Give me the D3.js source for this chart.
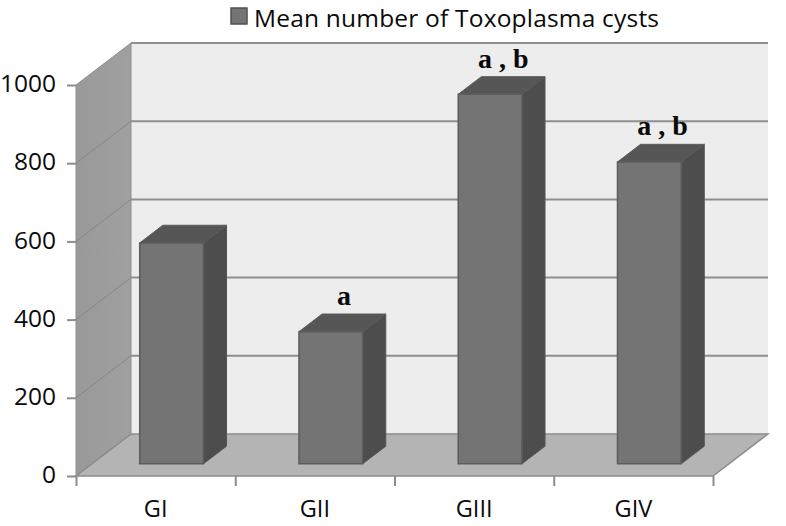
<!DOCTYPE html>
<html>
<head>
<meta charset="utf-8">
<script src="https://cdn.jsdelivr.net/npm/d3@7"></script>
<style>
	html, body { margin: 0; background: #fff; }
	svg { display: block; }
	text { font-family: "Open Sans", sans-serif; fill: #0a0a0a; }
</style>
</head>
<body>
<div id="chart"></div>
<script>
// Values
const categories = ['GI', 'GII', 'GIII', 'GIV']
const cystMeans = [565, 338, 945, 772]
const significance = ['', 'a', 'a , b', 'a , b']
const yTicks = [0, 200, 400, 600, 800, 1000]
const legendLabel = 'Mean number of Toxoplasma cysts'

const svgWidth = 786
const svgHeight = 526
const margin = { top: 85, right: 73, bottom: 50, left: 76 }
const width = svgWidth - margin.left - margin.right
const height = svgHeight - margin.top - margin.bottom

// oblique offset of the back wall
const depthX = 55
const depthY = -42
const barNear = 0.29
const barFar = 0.71

const svg = d3
	.select('#chart')
	.append('svg')
	.attr('width', svgWidth)
	.attr('height', svgHeight)

const g = svg
	.append('g')
	.attr('transform', `translate(${margin.left},${margin.top})`)

const x = d3
	.scaleBand()
	.range([0, width])
	.domain(categories)
	.paddingInner(0.6)
	.paddingOuter(0.3)

const y = d3.scaleLinear().range([height, 0]).domain([0, 1000])

// project a front-plane point to depth z (0 = front, 1 = back wall)
const pt = (px, py, z) => [px + depthX * z, py + depthY * z]
const poly = (points) => d3.line()(points) + 'Z'

const gridColor = '#8e8e8e'

// back wall
g.append('path')
	.attr('d', poly([pt(0, 0, 1), pt(width, 0, 1), pt(width, height, 1), pt(0, height, 1)]))
	.attr('fill', '#ededed')

// floor
g.append('path')
	.attr('d', poly([pt(0, height, 0), pt(width, height, 0), pt(width, height, 1), pt(0, height, 1)]))
	.attr('fill', '#b4b4b4')

// left wall
const wallGradient = svg.append('defs').append('linearGradient').attr('id', 'wall')
wallGradient.append('stop').attr('offset', '0').attr('stop-color', '#999999')
wallGradient.append('stop').attr('offset', '1').attr('stop-color', '#a0a0a0')

g.append('path')
	.attr('d', poly([pt(0, 0, 0), pt(0, 0, 1), pt(0, height, 1), pt(0, height, 0)]))
	.attr('fill', 'url(#wall)')
	.attr('stroke', '#8f8f8f')
	.attr('stroke-width', 1)

// gridlines, wall part then back part
const gridTicks = yTicks.filter((d) => d > 0)

g.selectAll('.grid-side')
	.data(gridTicks.filter((d) => d < 1000))
	.enter()
	.append('path')
	.attr('class', 'grid-side')
	.attr('d', (d) => d3.line()([pt(0, y(d), 0), pt(0, y(d), 1)]))
	.attr('stroke', '#868686')
	.attr('stroke-width', 1)

g.selectAll('.grid-back')
	.data(gridTicks)
	.enter()
	.append('path')
	.attr('class', 'grid-back')
	.attr('d', (d) => d3.line()([pt(0, y(d), 1), pt(width, y(d), 1)]))
	.attr('stroke', gridColor)
	.attr('stroke-width', 2)

// floor edges
g.append('path')
	.attr('d', d3.line()([pt(0, height, 1), pt(width, height, 1), pt(width, height, 0), pt(0, height, 0), pt(0, height, 1)]))
	.attr('fill', 'none')
	.attr('stroke', '#8c8c8c')
	.attr('stroke-width', 1.5)

// bars
const bars = g
	.selectAll('.bar')
	.data(categories)
	.enter()
	.append('g')
	.attr('class', 'bar')

const barValue = (c) => cystMeans[categories.indexOf(c)]
const barEdge = '#5c5c5c'

bars.append('path')
	.attr('d', (c) => {
		const x1 = x(c) + x.bandwidth()
		return poly([
			pt(x1, y(barValue(c)), barNear),
			pt(x1, y(barValue(c)), barFar),
			pt(x1, height, barFar),
			pt(x1, height, barNear),
		])
	})
	.attr('fill', '#4d4d4d')
	.attr('stroke', '#555555')

bars.append('path')
	.attr('d', (c) => {
		const x0 = x(c)
		const x1 = x0 + x.bandwidth()
		const top = y(barValue(c))
		return poly([
			pt(x0, top, barNear),
			pt(x0, top, barFar),
			pt(x1, top, barFar),
			pt(x1, top, barNear),
		])
	})
	.attr('fill', '#565656')
	.attr('stroke', '#5a5a5a')

bars.append('path')
	.attr('d', (c) => {
		const x0 = x(c)
		const x1 = x0 + x.bandwidth()
		return poly([
			pt(x0, y(barValue(c)), barNear),
			pt(x1, y(barValue(c)), barNear),
			pt(x1, height, barNear),
			pt(x0, height, barNear),
		])
	})
	.attr('fill', '#747474')
	.attr('stroke', barEdge)
	.attr('stroke-width', 1.5)

// significance letters above the bars
bars.append('text')
	.attr('x', (c) => pt(x(c) + x.bandwidth() / 2, 0, 0.53)[0])
	.attr('y', (c) => pt(0, y(barValue(c)), barFar)[1] - 9)
	.attr('text-anchor', 'middle')
	.style('font-family', '"Liberation Serif", serif')
	.style('font-weight', 'bold')
	.style('font-size', '28px')
	.text((c) => significance[categories.indexOf(c)])

// axes
const yAxis = g.append('g').call(
	d3.axisLeft(y).tickValues(yTicks).tickFormat(d3.format('d')).tickSize(9).tickSizeOuter(0).tickPadding(11)
)

const edgeScale = d3.scaleLinear().domain([0, categories.length]).range([0, width])

const xEdges = g
	.append('g')
	.attr('transform', `translate(0,${height})`)
	.call(
		d3.axisBottom(edgeScale)
			.tickValues(d3.range(categories.length + 1))
			.tickSize(10)
			.tickSizeOuter(0)
			.tickFormat('')
	)

const xAxis = g
	.append('g')
	.attr('transform', `translate(0,${height})`)
	.call(d3.axisBottom(x).tickSize(0).tickPadding(24))

xAxis.select('.domain').remove()
xEdges.select('.domain').remove()
yAxis.select('.domain').remove()

yAxis.selectAll('text').style('font-size', '24.5px').attr('dy', '0.27em')
xAxis.selectAll('text').style('font-size', '23.5px')

g.selectAll('.tick line').attr('stroke', '#8c8c8c').attr('stroke-width', 2)

// legend
svg.append('rect')
	.attr('x', 231)
	.attr('y', 8)
	.attr('width', 16)
	.attr('height', 16)
	.attr('fill', '#747474')
	.attr('stroke', '#505050')
	.attr('stroke-width', 1.5)

svg.append('text')
	.attr('x', 254)
	.attr('y', 26.5)
	.style('font-size', '24.5px')
	.style('letter-spacing', '0.2px')
	.text(legendLabel)
</script>
</body>
</html>
